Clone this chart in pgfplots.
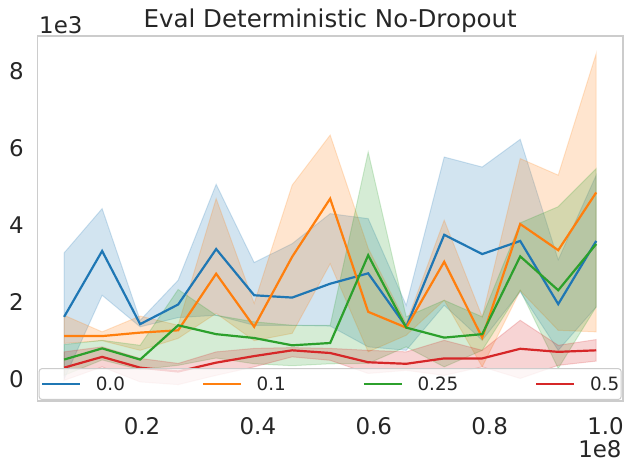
\documentclass[border=0pt]{standalone}
\usepackage{fontspec}
\setmainfont{DejaVu Sans}
\usepackage{pgfplots}
\usepackage{pgfplotstable}
\pgfplotsset{compat=1.18}
\usepgfplotslibrary{fillbetween}
\definecolor{tblue}{HTML}{1F77B4}
\definecolor{torange}{HTML}{FF7F0E}
\definecolor{tgreen}{HTML}{2CA02C}
\definecolor{tred}{HTML}{D62728}
\definecolor{framegray}{HTML}{CCCCCC}
\definecolor{txt}{HTML}{262626}

\pgfplotstableread{
x m lo up
0.0656 1.62 0.00 3.28
0.1312 3.33 2.18 4.43
0.1968 1.43 1.36 1.53
0.2624 1.94 1.60 2.57
0.3280 3.38 1.66 5.06
0.3936 2.18 1.40 3.03
0.4592 2.12 1.40 3.52
0.5248 2.48 1.38 4.30
0.5904 2.75 0.84 4.17
0.6560 1.36 0.75 1.92
0.7216 3.75 1.92 5.77
0.7872 3.25 1.01 5.51
0.8528 3.59 2.27 6.23
0.9184 1.95 0.75 3.10
0.9840 3.59 1.88 5.30
}\tblA
\pgfplotstableread{
x m lo up
0.0656 1.12 0.93 1.66
0.1312 1.12 1.00 1.23
0.1968 1.21 0.75 1.64
0.2624 1.27 1.06 1.40
0.3280 2.74 1.71 4.69
0.3936 1.36 1.00 1.97
0.4592 3.18 1.19 5.04
0.5248 4.69 3.00 6.34
0.5904 1.75 0.71 3.40
0.6560 1.34 1.14 1.45
0.7216 3.05 2.05 4.13
0.7872 1.08 0.32 1.62
0.8528 4.03 2.30 5.73
0.9184 3.35 1.27 5.30
0.9840 4.85 1.23 8.46
}\tblB
\pgfplotstableread{
x m lo up
0.0656 0.51 0.10 0.90
0.1312 0.80 0.50 1.01
0.1968 0.51 0.25 0.88
0.2624 1.40 0.36 2.33
0.3280 1.17 0.55 1.66
0.3936 1.07 0.40 1.49
0.4592 0.88 0.35 1.40
0.5248 0.94 0.40 1.40
0.5904 3.22 0.41 5.90
0.6560 1.34 0.84 1.62
0.7216 1.08 0.32 2.05
0.7872 1.17 0.75 1.62
0.8528 3.19 2.31 4.06
0.9184 2.31 0.28 4.48
0.9840 3.51 1.88 5.47
}\tblC
\pgfplotstableread{
x m lo up
0.0656 0.30 -0.03 0.71
0.1312 0.58 0.32 0.84
0.1968 0.30 -0.07 0.54
0.2624 0.20 -0.14 0.41
0.3280 0.43 0.10 0.71
0.3936 0.60 0.32 0.80
0.4592 0.75 0.58 0.82
0.5248 0.68 0.49 0.80
0.5904 0.44 0.15 0.75
0.6560 0.40 0.23 0.71
0.7216 0.54 0.10 1.01
0.7872 0.54 0.32 0.75
0.8528 0.79 0.02 1.53
0.9184 0.71 0.36 0.88
0.9840 0.75 0.47 1.03
}\tblD

\begin{document}
\begin{tikzpicture}
\begin{axis}[
  scale only axis,
  width=585.7bp, height=365bp,
  xmin=0.0193, xmax=1.0302,
  ymin=-0.566, ymax=8.914,
  axis line style={framegray, line width=1.25bp},
  major tick length=0pt,
  xtick={0.2,0.4,0.6,0.8,1.0},
  xticklabels={0.2,0.4,0.6,0.8,1.0},
  ytick={0,2,4,6,8},
  yticklabels={0,2,4,6,8},
  ticklabel style={font=\fontsize{23}{27}\selectfont, text=txt},
  xticklabel style={inner sep=0pt, anchor=north, yshift=-16.6bp},
  yticklabel style={inner sep=0pt, anchor=east, xshift=-13.3bp},
  legend columns=4,
  legend cell align=left,
  legend image code/.code={\draw[#1] (0bp,0bp) -- (37.7bp,0bp);},
  legend style={at={(0.5,0)}, anchor=south, yshift=1bp,
    draw=framegray, line width=1bp, rounded corners=3bp,
    fill=white, fill opacity=0.8, text opacity=1,
    inner xsep=2bp, inner ysep=8.8bp,
    font=\fontsize{18.4}{22}\selectfont, text=txt,
    nodes={inner sep=0pt, text height=13.3bp, text depth=0pt},
    /tikz/every odd column/.append style={column sep=14.8bp},
    /tikz/every even column/.append style={column sep=77bp}},
  clip=false,
]
\coordinate (ll) at (rel axis cs:0,0);
\coordinate (ur) at (rel axis cs:1,1);

\addplot[name path=au, draw=none, forget plot] table[x=x,y=up]{\tblA};
\addplot[name path=al, draw=none, forget plot] table[x=x,y=lo]{\tblA};
\addplot[fill=tblue, draw=tblue, fill opacity=0.2, draw opacity=0.2, line width=1bp, forget plot] fill between[of=au and al];
\addplot[name path=bu, draw=none, forget plot] table[x=x,y=up]{\tblB};
\addplot[name path=bl, draw=none, forget plot] table[x=x,y=lo]{\tblB};
\addplot[fill=torange, draw=torange, fill opacity=0.2, draw opacity=0.2, line width=1bp, forget plot] fill between[of=bu and bl];
\addplot[name path=cu, draw=none, forget plot] table[x=x,y=up]{\tblC};
\addplot[name path=cl, draw=none, forget plot] table[x=x,y=lo]{\tblC};
\addplot[fill=tgreen, draw=tgreen, fill opacity=0.2, draw opacity=0.2, line width=1bp, forget plot] fill between[of=cu and cl];
\addplot[name path=du, draw=none, forget plot] table[x=x,y=up]{\tblD};
\addplot[name path=dl, draw=none, forget plot] table[x=x,y=lo]{\tblD};
\addplot[fill=tred, draw=tred, fill opacity=0.2, draw opacity=0.2, line width=1bp, forget plot] fill between[of=du and dl];

\addplot[tblue, line width=2.2bp, no marks] table[x=x,y=m]{\tblA};
\addlegendentry{0.0}
\addplot[torange, line width=2.2bp, no marks] table[x=x,y=m]{\tblB};
\addlegendentry{0.1}
\addplot[tgreen, line width=2.2bp, no marks] table[x=x,y=m]{\tblC};
\addlegendentry{0.25}
\addplot[tred, line width=2.2bp, no marks] table[x=x,y=m]{\tblD};
\addlegendentry{0.5}

\node[anchor=base west, inner sep=0pt, font=\fontsize{23}{27}\selectfont, text=txt] at ([shift={(1.7bp,2.7bp)}]rel axis cs:0,1) {1e3};
\node[anchor=base east, inner sep=0pt, font=\fontsize{23}{27}\selectfont, text=txt] at ([shift={(-1.3bp,-56.4bp)}]rel axis cs:1,0) {1e8};
\node[anchor=base, inner sep=0pt, font=\fontsize{24.6}{29}\selectfont, text=txt] at ([shift={(0bp,8.3bp)}]rel axis cs:0.5,1) {Eval Deterministic No-Dropout};
\end{axis}
\pgfresetboundingbox
\path ([shift={(-37.3bp,-73bp)}]ll) rectangle ([shift={(11bp,36bp)}]ur);
\end{tikzpicture}
\end{document}
